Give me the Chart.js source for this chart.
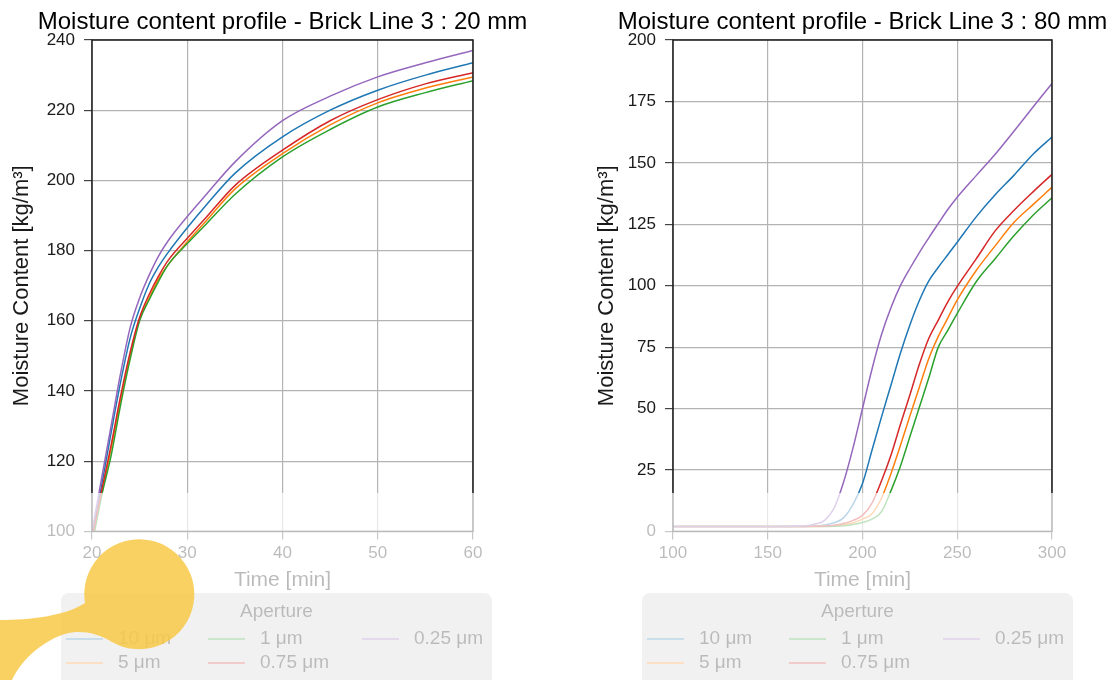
<!DOCTYPE html>
<html lang="en">
<head>
<meta charset="UTF-8">
<title>Moisture content profile - Brick Line 3</title>
<script src="https://cdn.jsdelivr.net/npm/chart.js"></script>
<style>
  html, body { margin: 0; padding: 0; background: #fff; }
  #wrap { position: relative; width: 1110px; height: 680px; overflow: hidden; }
  canvas { position: absolute; top: 0; }
  #leftChart { left: 0; }
  #rightChart { left: 560px; }
  /* the lower strip of the reference is washed out */
  #fade { position: absolute; left: 0; top: 493px; width: 1110px; height: 187px; background: rgba(255, 255, 255, 0.7); }
  #blob { position: absolute; left: 0; top: 520px; }
</style>
</head>
<body>
<div id="wrap">
  <canvas id="leftChart" width="560" height="680"></canvas>
  <canvas id="rightChart" width="550" height="680"></canvas>
  <div id="fade"></div>
  <svg id="blob" width="200" height="160" viewBox="0 520 200 160">
    <path d="M0,620 C30,620 65,616 85,603 A55,55 0 1,1 112,642 C95,632 80,630 65,634 C45,640 22,658 12,680 L0,680 Z"
          fill="#f8c846" fill-opacity="0.85"/>
  </svg>
</div>

<script>
    const apertures = ['10 μm', '5 μm', '1 μm', '0.75 μm', '0.25 μm'];
    const lineColors = ['#1f77b4', '#ff7f0e', '#2ca02c', '#d62728', '#9467bd'];

    // Brick line 3, 20 mm
    const time20 = [20, 21, 22, 23, 24, 25, 26, 27, 28, 30, 32, 35, 40, 45, 50, 55, 60];
    const mc20_10um  = [99, 113, 128, 142.5, 155, 163.5, 170.5, 175.5, 179.5, 186.5, 193, 202, 212.4, 220, 225.7, 230, 233.5];
    const mc20_5um   = [97.5, 110.5, 123.5, 137.5, 150, 160.5, 166.5, 172, 176, 182.5, 188.5, 197.5, 207.6, 215.8, 222.1, 226.3, 229.5];
    const mc20_1um   = [96, 110, 121.5, 136, 149, 160, 166, 171.3, 176, 182, 187.6, 196, 206.7, 214.5, 220.9, 225, 228.4];
    const mc20_075um = [98, 111.5, 124.5, 138.5, 151, 161, 167.5, 172.8, 177.2, 183.5, 189.5, 198.5, 208.6, 217, 223, 227.5, 230.7];
    const mc20_025um = [100, 115, 130, 145, 158, 166.5, 173, 178.5, 182.8, 189.7, 196, 205.2, 217, 224, 229.5, 233.5, 237];

    // Brick line 3, 80 mm
    const time80 = [100, 150, 170, 175, 180, 185, 190, 195, 200, 205, 210, 215, 220, 225, 230, 235, 240, 245, 250, 260, 270, 280, 290, 300];
    const mc80_10um  = [2, 2, 2, 2.2, 2.6, 3.5, 5.5, 11, 19.5, 33, 46.5, 59.5, 72.5, 84, 94, 102, 107.5, 112.6, 117.7, 128, 137, 145, 153.5, 160.5];
    const mc80_5um   = [2, 2, 2, 2, 2.1, 2.3, 2.7, 3.5, 5, 7.2, 13.5, 23.5, 35, 47, 58.7, 70.4, 79.4, 86.8, 94.2, 106.2, 116.2, 125.8, 133, 140.1];
    const mc80_1um   = [2, 2, 2, 2, 2, 2.1, 2.3, 2.8, 3.6, 5, 8, 16.5, 26.5, 38.5, 50.5, 62.5, 75, 81.8, 88.7, 101.6, 111, 120.4, 128.7, 135.8];
    const mc80_075um = [2, 2, 2, 2.1, 2.2, 2.5, 3.2, 4.5, 6.5, 11.5, 20.5, 31, 43.5, 55.5, 68, 78.6, 86, 93.4, 99.7, 110.9, 122.3, 130.7, 138.2, 145.3];
    const mc80_025um = [2, 2, 2.3, 3, 4.5, 9.5, 20, 34, 50, 66, 80, 91, 100, 107, 113.5, 119.5, 125.3, 131, 136, 144.8, 153.5, 163, 172.7, 182.3];

    const FONT = '"Liberation Sans", Arial, Helvetica, sans-serif';
    Chart.defaults.font.family = FONT;
    Chart.defaults.color = '#1a1a1a';

    // title centred over the plot area, not squeezed to its width
    const plotTitle = {
        id: 'plotTitle',
        afterDraw(chart, args, opts) {
            const { ctx, chartArea } = chart;
            ctx.save();
            ctx.font = '24px ' + FONT;
            ctx.fillStyle = '#000';
            ctx.textAlign = 'center';
            ctx.textBaseline = 'middle';
            ctx.fillText(opts.text, (chartArea.left + chartArea.right) / 2, 22);
            ctx.restore();
        }
    };

    // black frame round the plot area
    const framePlugin = {
        id: 'frame',
        afterDatasetsDraw(chart) {
            const { ctx, chartArea: a } = chart;
            ctx.save();
            ctx.strokeStyle = '#1a1a1a';
            ctx.lineWidth = 1.5;
            ctx.strokeRect(a.left, a.top, a.right - a.left, a.bottom - a.top);
            ctx.restore();
        }
    };

    // legend box under the chart, 3 columns filled column by column
    const apertureLegend = {
        id: 'apertureLegend',
        afterDraw(chart) {
            const { ctx, chartArea } = chart;
            const left = chartArea.left - 31, top = 593, w = 431, h = 100;
            ctx.save();
            ctx.fillStyle = '#d0d0d0';
            ctx.beginPath();
            ctx.roundRect(left, top, w, h, 8);
            ctx.fill();

            ctx.fillStyle = '#1a1a1a';
            ctx.font = '19px ' + FONT;
            ctx.textAlign = 'center';
            ctx.textBaseline = 'middle';
            ctx.fillText('Aperture', left + w / 2, 612);

            const cols = [0, 142, 296];
            const rows = [639, 663];
            ctx.textAlign = 'left';
            chart.data.datasets.forEach((ds, k) => {
                const cx = left + cols[Math.floor(k / 2)];
                const cy = rows[k % 2];
                ctx.strokeStyle = ds.borderColor;
                ctx.lineWidth = 1.6;
                ctx.beginPath();
                ctx.moveTo(cx + 5, cy);
                ctx.lineTo(cx + 42, cy);
                ctx.stroke();
                ctx.fillStyle = '#1a1a1a';
                ctx.fillText(ds.label, cx + 57, cy);
            });
            ctx.restore();
        }
    };

    function buildDatasets(time, series) {
        return series.map((vals, i) => ({
            label: apertures[i],
            data: time.map((t, k) => ({ x: t, y: vals[k] })),
            borderColor: lineColors[i],
            backgroundColor: lineColors[i],
            borderWidth: 1.5,
            pointRadius: 0,
            cubicInterpolationMode: 'monotone',
            fill: false,
            order: series.length - i
        }));
    }

    function buildOptions(cfg) {
        const grid = { color: '#b3b3b3', lineWidth: 1.2, tickLength: 8, tickColor: '#444' };
        return {
            responsive: false,
            animation: false,
            layout: { padding: { top: 40, left: cfg.padLeft, right: cfg.padRight, bottom: 85 } },
            plugins: {
                legend: { display: false },
                tooltip: { enabled: false },
                title: { display: false },
                plotTitle: { text: cfg.title }
            },
            scales: {
                x: {
                    type: 'linear',
                    min: cfg.xMin, max: cfg.xMax,
                    ticks: { stepSize: cfg.xStep, padding: 4, font: { size: 17 } },
                    grid: grid,
                    border: { display: false },
                    title: { display: true, text: 'Time [min]', font: { size: 21 }, padding: { top: 0, bottom: 2 } }
                },
                y: {
                    min: cfg.yMin, max: cfg.yMax,
                    ticks: { stepSize: cfg.yStep, padding: 9, font: { size: 17 } },
                    grid: grid,
                    border: { display: false },
                    title: { display: true, text: 'Moisture Content [kg/m³]', font: { size: 22 }, padding: { top: 0, bottom: 0 } },
                    afterFit(scale) { scale.width = cfg.yWidth; }
                }
            }
        };
    }

    new Chart(document.getElementById('leftChart'), {
        type: 'line',
        data: { datasets: buildDatasets(time20, [mc20_10um, mc20_5um, mc20_1um, mc20_075um, mc20_025um]) },
        options: buildOptions({
            title: 'Moisture content profile - Brick Line 3 : 20 mm',
            xMin: 20, xMax: 60, xStep: 10, yMin: 100, yMax: 240, yStep: 20,
            padLeft: 9, padRight: 87, yWidth: 83
        }),
        plugins: [framePlugin, apertureLegend, plotTitle]
    });

    new Chart(document.getElementById('rightChart'), {
        type: 'line',
        data: { datasets: buildDatasets(time80, [mc80_10um, mc80_5um, mc80_1um, mc80_075um, mc80_025um]) },
        options: buildOptions({
            title: 'Moisture content profile - Brick Line 3 : 80 mm',
            xMin: 100, xMax: 300, xStep: 50, yMin: 0, yMax: 200, yStep: 25,
            padLeft: 34, padRight: 58, yWidth: 79
        }),
        plugins: [framePlugin, apertureLegend, plotTitle]
    });
</script>
</body>
</html>
